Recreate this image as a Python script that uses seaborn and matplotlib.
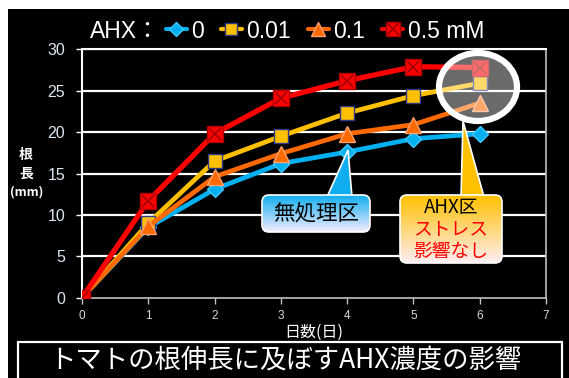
import numpy as np
import pandas as pd
import matplotlib
matplotlib.use("Agg")
import matplotlib.pyplot as plt
import seaborn as sns
from matplotlib.lines import Line2D
from matplotlib.patches import Rectangle, FancyBboxPatch, Polygon, Ellipse
from matplotlib.legend_handler import HandlerTuple

# ---- data ----
days = [0, 1, 2, 3, 4, 5, 6]
conc_labels = ["0", "0.01", "0.1", "0.5 mM"]
root_0 = [0, 8.5, 13.1, 16.2, 17.6, 19.2, 19.8]
root_001 = [0, 9.0, 16.5, 19.5, 22.3, 24.4, 25.9]
root_01 = [0, 8.6, 14.6, 17.4, 19.8, 20.9, 23.5]
root_05 = [0, 11.7, 19.8, 24.1, 26.2, 27.9, 27.8]
x_ticks = [0, 1, 2, 3, 4, 5, 6, 7]
y_ticks = [0, 5, 10, 15, 20, 25, 30]
title = "トマトの根伸長に及ぼすAHX濃度の影響"
xlabel = "日数(日)"
legend_prefix = "AHX："
callout1 = "無処理区"
callout2_lines = ["AHX区", "ストレス", "影響なし"]

sns.set_theme(style="dark")
plt.rcParams["font.family"] = ["Liberation Sans", "Noto Sans CJK JP", "DejaVu Sans"]

W, H = 569, 378
fig = plt.figure(figsize=(W / 100, H / 100), dpi=100, facecolor="white")

# black background panel
fig.patches.append(Rectangle((8 / W, 0), 1 - 8 / W, (H - 9) / H, transform=fig.transFigure,
                             facecolor="black", edgecolor="none", zorder=-10))

ax = fig.add_axes([82 / W, (H - 297.7) / H, (546 - 82) / W, (297.7 - 49.3) / H])
ax.set_facecolor("black")

df = pd.DataFrame({"day": days * 4,
                   "val": root_0 + root_001 + root_01 + root_05,
                   "conc": sum([[c] * len(days) for c in conc_labels], [])})

styles = {
    "0": dict(color="#00b0f0", marker="D", markersize=8, markeredgecolor="#40c8ff", lw=3.4),
    "0.01": dict(color="#ffc000", marker="s", markersize=10, markeredgecolor="#2e3a8c", lw=3.4),
    "0.1": dict(color="#ff6a00", marker="^", markersize=11, markeredgecolor="#ffa070", lw=3.4),
    "0.5 mM": dict(color="#ff0000", marker="s", markersize=11, markeredgecolor="#b00000", lw=3.8),
}
for i, c in enumerate(conc_labels):
    st = styles[c]
    sub = df[df["conc"] == c]
    sns.lineplot(data=sub, x="day", y="val", ax=ax, color=st["color"], marker=st["marker"],
                 markersize=st["markersize"], markeredgecolor=st["markeredgecolor"],
                 markeredgewidth=1.0, linewidth=st["lw"], zorder=3 + i, legend=False)
sub = df[df["conc"] == "0.5 mM"]
ax.plot(sub["day"], sub["val"], linestyle="none", marker="x", markersize=9,
        markeredgecolor="#a00000", markeredgewidth=1.2, zorder=8)

ax.set_xlim(0, 7)
ax.set_ylim(0, 30)
ax.set_xticks(x_ticks)
ax.set_yticks(y_ticks)
ax.set_xlabel(xlabel, color="white", fontsize=11.5, labelpad=1,
              family=["Noto Sans CJK JP"])
ax.set_ylabel("")
ax.grid(False)
for yv in y_ticks[1:]:
    ax.axhline(yv, color="white", lw=1.6, zorder=1)
for s in ["top", "left"]:
    ax.spines[s].set_color("white")
    ax.spines[s].set_linewidth(1.5)
for s in ["right", "bottom"]:
    ax.spines[s].set_color("#c0c0c0")
    ax.spines[s].set_linewidth(1.2)
for s in ax.spines.values():
    s.set_visible(True)
ax.tick_params(axis="y", colors="#dce6f2", labelsize=11.5, length=4, width=1,
               pad=8, left=True, direction="out")
ax.tick_params(axis="y", color="white")
ax.tick_params(axis="x", colors="#d8d8d8", labelsize=8.5, length=4, width=1,
               pad=5, bottom=True, direction="out")
ax.tick_params(axis="x", color="#c0c0c0")

# y label
fig.text(26 / W, 1 - 155 / H, "根", color="white", fontsize=10, ha="center", va="center",
         family=["Noto Sans CJK JP"], fontweight="bold")
fig.text(26 / W, 1 - 174 / H, "長", color="white", fontsize=10, ha="center", va="center",
         family=["Noto Sans CJK JP"], fontweight="bold")
fig.text(27 / W, 1 - 192 / H, "(mm)", color="white", fontsize=9, ha="center", va="center",
         family=["Noto Sans CJK JP"], fontweight="bold")

# legend
fig.text(90 / W, 1 - 31 / H, legend_prefix, color="white", fontsize=16.5, ha="left",
         va="center", family=["Liberation Sans", "Noto Sans CJK JP"])
h0 = Line2D([], [], color=styles["0"]["color"], marker="D", markersize=7,
            markeredgecolor=styles["0"]["markeredgecolor"], lw=3)
h1 = Line2D([], [], color=styles["0.01"]["color"], marker="s", markersize=9,
            markeredgecolor=styles["0.01"]["markeredgecolor"], lw=3)
h2 = Line2D([], [], color=styles["0.1"]["color"], marker="^", markersize=10,
            markeredgecolor=styles["0.1"]["markeredgecolor"], lw=3)
h3a = Line2D([], [], color="#ff0000", marker="s", markersize=10, markeredgecolor="#b00000", lw=3)
h3b = Line2D([], [], color="none", marker="x", markersize=8, markeredgecolor="#a00000",
             markeredgewidth=1.2, lw=0)
leg = fig.legend([h0, h1, h2, (h3a, h3b)], conc_labels, ncol=4, loc="center left",
                 bbox_to_anchor=(166 / W, 1 - 31 / H), frameon=False, fontsize=16.5,
                 labelcolor="white", handlelength=0.9, handletextpad=0.2,
                 columnspacing=0.75, borderpad=0, borderaxespad=0,
                 handler_map={tuple: HandlerTuple(ndivide=1)})

# overlay axes in pixel coordinates
ov = fig.add_axes([0, 0, 1, 1], zorder=5)
ov.set_xlim(0, W)
ov.set_ylim(H, 0)
ov.axis("off")
ov.patch.set_alpha(0)

# highlight circle
ov.add_patch(Ellipse((478, 87), 78, 68, facecolor=(1, 1, 1, 0.42), edgecolor="white", lw=4.5, zorder=2))


def grad_box(x0, y0, x1, y1, ctop, cbot, tip, base):
    poly = Polygon([base[0], tip, base[1]], closed=True, facecolor=ctop, edgecolor="white",
                   lw=1.2, zorder=3)
    ov.add_patch(poly)
    box = FancyBboxPatch((x0, y0), x1 - x0, y1 - y0,
                         boxstyle="round,pad=0,rounding_size=7", facecolor="none",
                         edgecolor="white", lw=1.2, zorder=5)
    ov.add_patch(box)
    t = np.linspace(0, 1, 64)[:, None, None]
    ct = np.array(matplotlib.colors.to_rgb(ctop))[None, None, :]
    cb = np.array(matplotlib.colors.to_rgb(cbot))[None, None, :]
    img = ct * (1 - t) + cb * t
    im = ov.imshow(img, extent=(x0, x1, y1, y0), aspect="auto", zorder=4, interpolation="bilinear")
    clip = FancyBboxPatch((x0, y0), x1 - x0, y1 - y0,
                          boxstyle="round,pad=0,rounding_size=7", transform=ov.transData)
    im.set_clip_path(clip)


grad_box(262, 195, 370, 232, "#10aef0", "#f4ecff", tip=(348, 150),
         base=[(327, 197), (352, 197)])
grad_box(400, 195, 502, 263, "#ffc000", "#ffeef4", tip=(463, 121),
         base=[(461, 197), (484, 197)])
ov.set_xlim(0, W)
ov.set_ylim(H, 0)

ov.text(316, 214, callout1, fontsize=15.5, color="black", ha="center", va="center",
        family=["Noto Sans CJK JP"], zorder=6)
ov.text(451, 207, callout2_lines[0], fontsize=13.5, color="black", ha="center", va="center",
        family=["Noto Sans CJK JP"], zorder=6)
ov.text(451, 230, callout2_lines[1], fontsize=13.5, color="#ff0000", ha="center", va="center",
        family=["Noto Sans CJK JP"], zorder=6)
ov.text(451, 251, callout2_lines[2], fontsize=13.5, color="#ff0000", ha="center", va="center",
        family=["Noto Sans CJK JP"], zorder=6)

# title box
ov.add_patch(Rectangle((18, 342), 544, 50, facecolor="black", edgecolor="white", lw=1.6, zorder=2))
ov.text(285, 360, title, fontsize=19, color="white", ha="center", va="center",
        family=["Noto Sans CJK JP"], zorder=3)

fig.savefig("out.png", dpi=100, facecolor="white")
